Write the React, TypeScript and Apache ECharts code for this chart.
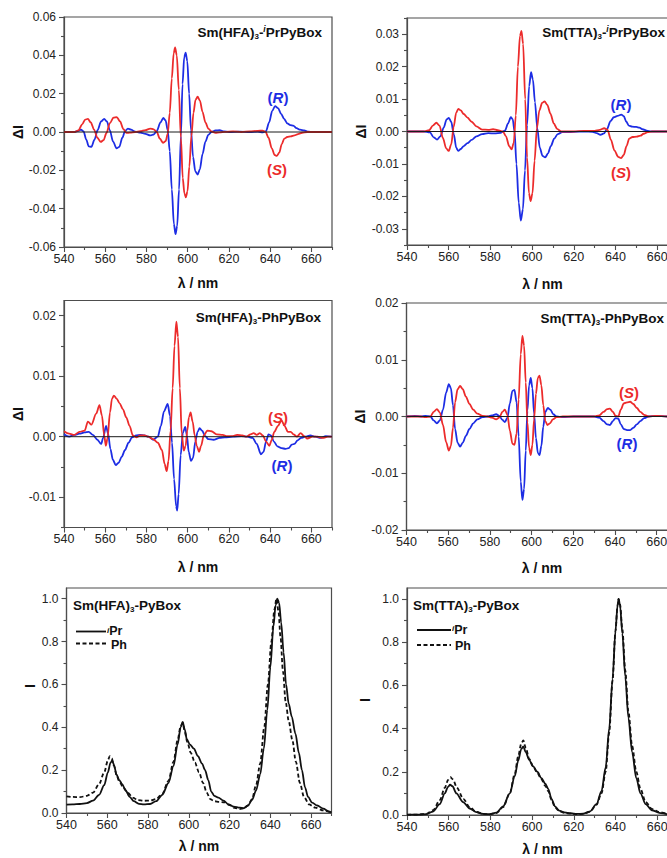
import React, { useEffect, useRef } from "react";
import * as echarts from "echarts";

type Pt = [number, number];

const FONT = '"Liberation Sans", Arial, Helvetica, sans-serif';
const RED = "#ec2b2b";
const BLUE = "#1d2de4";
const FRAME = "#4d4d4d";
const TEXT = "#222";

const WL_MIN = 540;
const WL_MAX = 670;
const wlMajor = [540, 560, 580, 600, 620, 640, 660];
const wlMinor = [550, 570, 590, 610, 630, 650, 670];

// ---- CPL spectra, Sm(HFA)3-iPrPyBox ----
const hfaPrR: Pt[] = [[540,0],[545,0],[547,0.0006],[548.3,0.0012],[549.5,0.0003],[550.8,-0.004],[552,-0.0075],[553.3,-0.0077],[554.8,-0.004],[556.3,0.001],[558,0.0055],[559.5,0.0068],[560.8,0.0055],[562.2,0.001],[563.8,-0.005],[565.5,-0.0085],[566.8,-0.0078],[568.3,-0.003],[569.6,0.0005],[571,0.0018],[572.5,0.0012],[574.5,0.0002],[577,-0.0003],[579.5,-0.001],[581.8,-0.0018],[583.5,-0.0013],[585,0.0005],[586.8,0.005],[588.2,0.0073],[589.3,0.006],[590.3,0.001],[591.3,-0.01],[592.3,-0.03],[593.3,-0.048],[594.1,-0.0533],[594.9,-0.049],[595.8,-0.03],[596.7,-0.002],[597.5,0.025],[598.3,0.039],[599,0.0414],[599.8,0.037],[600.7,0.02],[601.6,0.001],[602.6,-0.013],[603.7,-0.0205],[604.8,-0.0222],[605.9,-0.0195],[607.2,-0.0115],[608.6,-0.005],[610,-0.0015],[611.5,0],[613.5,0.0008],[615.5,0.001],[617.5,0.0003],[620,0],[625,0.0002],[630,0],[634,0.0002],[636.5,-0.0002],[638,0.0005],[639.5,0.005],[641,0.011],[642.4,0.0135],[643.8,0.0125],[645.3,0.0095],[646.8,0.0068],[648.3,0.0045],[649.8,0.0036],[651.2,0.0033],[652.8,0.002],[654.5,0.0012],[656.5,0.0008],[658.5,0.0002],[661,0],[670,0]];
const hfaPrS: Pt[] = [[540,0],[545,0],[547,0.0008],[548.8,0.004],[550.3,0.0065],[551.6,0.0068],[553,0.005],[554.6,0.0012],[556.2,-0.003],[557.8,-0.0052],[559.2,-0.0042],[560.6,-0.0005],[562.2,0.0045],[564,0.0075],[565.6,0.0078],[567.2,0.0055],[568.8,0.0015],[570.3,-0.0005],[572,-0.0003],[574.5,0],[577,0.0004],[579.5,0.001],[581.8,0.0018],[583.5,0.0014],[585,0],[586.5,-0.0035],[588,-0.0056],[589.3,-0.0048],[590.3,-0.001],[591.3,0.01],[592.3,0.028],[593.2,0.041],[593.9,0.0441],[594.7,0.04],[595.7,0.022],[596.7,-0.003],[597.6,-0.024],[598.4,-0.032],[599.1,-0.0341],[599.9,-0.031],[600.8,-0.018],[601.8,-0.002],[602.8,0.01],[603.8,0.0168],[604.8,0.0184],[605.9,0.0165],[607.2,0.0105],[608.6,0.005],[610,0.0018],[611.5,0.0003],[613.5,-0.0004],[615.5,-0.0002],[618,0.0001],[622,0.0003],[626,0],[630,0.0003],[634,0.0006],[636.3,0.0007],[637.8,0],[639.2,-0.003],[640.8,-0.0085],[642.2,-0.012],[643.2,-0.0125],[644.4,-0.0108],[645.6,-0.0065],[646.8,-0.0035],[648.3,-0.0026],[650,-0.0023],[651.8,-0.0018],[653.5,-0.0011],[655.5,-0.0004],[658,0],[670,0]];

// ---- CPL spectra, Sm(TTA)3-iPrPyBox ----
const ttaPrR: Pt[] = [[540,0],[548,0],[551,-0.0003],[552.8,-0.0018],[554.4,-0.0025],[556,-0.0015],[557.6,0.0012],[559,0.0037],[560.1,0.0042],[561.2,0.003],[562.5,-0.001],[563.6,-0.005],[564.6,-0.006],[565.8,-0.0054],[567.2,-0.0045],[569,-0.0036],[571,-0.0026],[573.3,-0.0015],[576,-0.0008],[579,-0.0005],[582,-0.0006],[585,-0.0004],[587,0.0003],[588.5,0.0025],[589.8,0.0044],[590.7,0.0038],[591.6,0],[592.5,-0.01],[593.6,-0.022],[594.6,-0.0275],[595.6,-0.024],[596.6,-0.012],[597.6,0.002],[598.6,0.014],[599.5,0.0183],[600.4,0.016],[601.4,0.009],[602.5,0.001],[603.7,-0.005],[605,-0.0075],[606.3,-0.008],[607.6,-0.0068],[609,-0.0045],[610.6,-0.0022],[612.3,-0.0008],[614.5,-0.0002],[617,-0.0002],[620,-0.0001],[625,0],[629,-0.0001],[631,-0.0005],[632.8,-0.001],[634.5,-0.0006],[636,0.0008],[637.6,0.0032],[639.2,0.0044],[641,0.0048],[642.8,0.0052],[644,0.0047],[645.2,0.003],[646.4,0.0018],[648,0.0015],[650,0.0014],[651.5,0.0012],[653,0.0007],[655,0.0003],[657,0],[670,0]];
const ttaPrS: Pt[] = [[540,0],[548,0],[550.6,0.0004],[552.4,0.0018],[554.1,0.0027],[555.6,0.0018],[557.2,-0.002],[558.8,-0.0052],[560,-0.006],[561.2,-0.004],[562.4,0.0015],[563.6,0.0058],[564.6,0.007],[565.8,0.0065],[567.2,0.0054],[569,0.0043],[571,0.003],[573.3,0.0016],[576,0.0006],[579,0.0005],[581.3,0.0007],[583.5,0.0004],[586,0],[587.5,-0.0015],[589,-0.0045],[590.2,-0.0055],[591.2,-0.0035],[592.2,0.005],[593.2,0.02],[594.2,0.0295],[594.9,0.031],[595.7,0.027],[596.7,0.01],[597.6,-0.008],[598.5,-0.019],[599.3,-0.0215],[600.2,-0.019],[601.2,-0.009],[602.3,0.001],[603.5,0.0065],[604.8,0.0088],[606,0.0093],[607.3,0.0082],[608.8,0.0055],[610.4,0.0025],[612,0.0008],[614,0],[620,0],[625,0.0002],[630,0.0002],[632.5,0.0005],[634.6,0.001],[636.2,0.0005],[637.8,-0.0025],[639.5,-0.0058],[641.3,-0.0078],[642.7,-0.0082],[644,-0.0072],[645.3,-0.0045],[646.6,-0.0022],[648.2,-0.0017],[650.2,-0.0016],[652,-0.0013],[653.5,-0.0007],[655.5,-0.0002],[657.5,0],[670,0]];

// ---- CPL spectra, Sm(HFA)3-PhPyBox ----
const hfaPhR: Pt[] = [[540,0.0004],[542.5,0],[545,0.0003],[547.5,0.0005],[550,0.0007],[552,0.0008],[554,0.0003],[556.2,-0.0005],[558,-0.0012],[559,-0.0002],[560.4,0.0018],[561.4,0.0005],[562.5,-0.002],[563.7,-0.0038],[565.1,-0.0047],[566.5,-0.0043],[568,-0.0033],[569.6,-0.0022],[571.3,-0.001],[573,-0.0001],[575,0.0002],[577,0.0003],[579,0.0002],[581,0],[583.2,-0.0005],[585.5,0],[587,0.0018],[588.5,0.0042],[590.3,0.0054],[591.4,0.0035],[592.4,-0.001],[593.4,-0.007],[594.4,-0.0115],[594.9,-0.0122],[595.6,-0.0095],[596.6,-0.003],[597.7,0.0007],[598.8,0.0016],[599.6,0.0002],[600.5,-0.0025],[601.6,-0.004],[602.6,-0.0035],[603.7,-0.0008],[604.8,0.0008],[605.8,0.0014],[607,0.001],[608.5,0.0001],[610,-0.0004],[612.5,-0.0005],[615.5,-0.0002],[618,-0.0001],[622,0],[626,0.0001],[629,0],[631.5,-0.0002],[633.5,-0.0012],[635.5,-0.0029],[636.8,-0.0025],[638,-0.0008],[639.2,0.0004],[640.4,0.0002],[641.8,-0.0008],[643.5,-0.0016],[645.5,-0.0019],[647.5,-0.002],[649,-0.0019],[650.5,-0.0013],[651.8,-0.0012],[653.3,-0.0006],[655,-0.0002],[657,0],[659.5,0.0002],[662,0],[664.5,-0.0002],[667,0.0001],[670,0]];
const hfaPhS: Pt[] = [[540,0.0009],[542.5,0.0005],[545,0.0003],[547.5,0.0008],[550,0.001],[551.6,0.0025],[553.3,0.002],[555.6,0.0038],[557.2,0.0052],[558.4,0.0035],[559.5,0.0002],[560.3,-0.0015],[561.1,-0.0003],[562.3,0.004],[563.3,0.0063],[564.2,0.0068],[565.5,0.0063],[567,0.0055],[568.6,0.0045],[570.2,0.0032],[571.8,0.0018],[573.4,0.0002],[575,-0.0001],[577,0.0002],[579,0.0002],[581,0],[583.2,-0.0004],[585.5,-0.001],[587.5,-0.0022],[588.8,-0.0045],[589.8,-0.0057],[590.7,-0.004],[591.7,0.001],[592.7,0.008],[593.6,0.015],[594.5,0.019],[595.3,0.0165],[596.2,0.008],[597.1,0.0005],[598.1,-0.0023],[599,-0.0015],[599.8,0.001],[600.6,0.0032],[601.4,0.004],[602.4,0.0025],[603.4,0.0002],[604.4,-0.0015],[605.5,-0.0025],[606.5,-0.0015],[607.8,0.0002],[609.5,0.001],[611.5,0.0009],[614,0.0004],[617,0.0003],[619,0.0001],[621.5,0.0001],[624,0.0003],[626.5,0.0002],[628.5,0],[630.5,0.0004],[632,0.0006],[633.5,0.0003],[635,0.0006],[636.5,0.0002],[638,-0.0008],[639.6,-0.0015],[640.8,-0.0005],[642,0.0008],[643.8,0.0018],[645.5,0.0027],[647,0.0018],[648.6,0.0008],[650,0.0008],[651.3,0.0004],[653,0],[654.8,0.0006],[656.5,0.0001],[658,-0.0003],[660.5,0],[663,0],[665.5,-0.0002],[668,0],[670,0]];

// ---- CPL spectra, Sm(TTA)3-PhPyBox ----
const ttaPhR: Pt[] = [[540,0],[544,0.0001],[547,0],[549,0.0001],[551.5,0],[553,-0.0007],[554.6,-0.0012],[556,-0.0007],[557.5,0.0012],[559,0.0042],[560.3,0.0057],[561.3,0.005],[562.3,0.002],[563.3,-0.0022],[564.5,-0.0046],[565.7,-0.0053],[567,-0.0046],[568.5,-0.0034],[570.2,-0.0022],[572,-0.0012],[574,-0.0005],[576.5,-0.0001],[579,0],[581,0.0002],[583,0.0004],[584.5,0.0001],[586,-0.0006],[587.2,-0.001],[588.4,-0.0002],[589.6,0.0023],[590.8,0.0045],[591.8,0.0047],[592.8,0.0025],[593.8,-0.0035],[594.8,-0.0115],[595.6,-0.0147],[596.4,-0.0128],[597.2,-0.006],[598,0.001],[598.8,0.0055],[599.6,0.0068],[600.4,0.005],[601.2,0.0005],[602.1,-0.0038],[603,-0.0064],[603.8,-0.0068],[604.7,-0.0052],[605.6,-0.0018],[606.6,0.0008],[607.8,0.0015],[609,0.0012],[610.4,0.0004],[612,0],[615,-0.0001],[620,0],[630,0],[632.5,-0.0002],[634.5,-0.0008],[636.2,-0.0014],[637.6,-0.0015],[639,-0.0008],[640.3,-0.0003],[641.6,-0.0004],[642.8,-0.0014],[644.2,-0.0022],[645.8,-0.0024],[647.3,-0.0024],[648.8,-0.002],[650.5,-0.0014],[652.2,-0.0008],[654,-0.0003],[656,0],[660,0.0001],[665,0],[670,0]];
const ttaPhS: Pt[] = [[540,0],[547,0],[549,-0.0001],[551.5,0],[553,0.0008],[554.6,0.0013],[556,0.0007],[557.5,-0.0015],[559,-0.0045],[560.3,-0.006],[561.3,-0.0052],[562.3,-0.002],[563.3,0.0025],[564.5,0.0048],[565.7,0.0054],[567,0.0048],[568.5,0.0035],[570.2,0.0022],[572,0.0012],[574,0.0005],[576.5,0.0001],[579,0],[581,-0.0002],[583,-0.0005],[584.5,-0.0002],[586,0.0008],[587.2,0.0012],[588.4,0.0003],[589.6,-0.0025],[590.8,-0.0048],[591.8,-0.005],[592.8,-0.003],[593.8,0.003],[594.8,0.011],[595.6,0.0142],[596.4,0.0125],[597.2,0.006],[598,-0.001],[598.8,-0.0055],[599.6,-0.0068],[600.4,-0.005],[601.2,-0.0005],[602.1,0.004],[603,0.0068],[603.8,0.0072],[604.7,0.0055],[605.6,0.002],[606.6,-0.0008],[607.6,-0.0015],[608.8,-0.0012],[610.2,-0.0005],[612,-0.0001],[615,0],[630,0],[632.5,0.0002],[634.5,0.0008],[636.2,0.0013],[637.6,0.0014],[639,0.0008],[640.3,0.0001],[641.6,0],[642.8,0.0012],[644.2,0.0023],[645.8,0.0025],[647.3,0.0026],[648.8,0.0022],[650.5,0.0015],[652.2,0.0008],[654,0.0003],[656,0],[660,0.0001],[665,0],[670,0]];

// ---- Normalised emission, Sm(HFA)3-PyBox ----
const hfaPyPr: Pt[] = [[540,0.039],[543,0.04],[546.5,0.042],[550,0.046],[553,0.058],[556,0.085],[558.5,0.13],[560.3,0.19],[561.6,0.235],[562.4,0.245],[563.3,0.225],[564.5,0.18],[565.8,0.155],[567.3,0.135],[569,0.105],[571,0.075],[573,0.055],[575.5,0.043],[578,0.04],[581,0.042],[584,0.055],[587,0.085],[590,0.14],[592.5,0.22],[594.5,0.32],[596,0.4],[597,0.425],[598,0.39],[599,0.345],[600.5,0.32],[602.5,0.3],[604.5,0.265],[606.5,0.23],[608,0.2],[609.5,0.155],[611,0.1],[612.5,0.08],[614.5,0.072],[617,0.058],[619.5,0.04],[622,0.03],[625,0.025],[627,0.023],[629,0.035],[631,0.06],[633,0.105],[635,0.18],[636.8,0.3],[638.5,0.48],[640,0.68],[641.5,0.87],[642.6,0.97],[643.4,1.0],[644.3,0.98],[645.3,0.89],[646.5,0.75],[647.7,0.6],[649,0.51],[650.5,0.45],[652.3,0.37],[654,0.28],[655.5,0.2],[657,0.12],[658.5,0.075],[660.5,0.048],[663,0.035],[666,0.02],[668.5,0.008],[670,0.002]];
const hfaPyPh: Pt[] = [[540,0.078],[543,0.075],[546.5,0.074],[550,0.08],[553,0.095],[556,0.135],[558.5,0.19],[560.3,0.245],[561.2,0.265],[562.2,0.255],[563.3,0.22],[564.6,0.175],[566,0.145],[567.8,0.12],[570,0.095],[572.5,0.072],[575,0.06],[578,0.057],[581,0.058],[584,0.065],[587,0.09],[590,0.15],[592.5,0.24],[594.5,0.34],[596,0.405],[597,0.42],[598,0.38],[599.3,0.33],[601,0.28],[603,0.235],[605,0.19],[607,0.14],[608.8,0.095],[610.5,0.065],[612.5,0.055],[615,0.052],[617.5,0.05],[620,0.037],[622.5,0.024],[625,0.018],[627,0.022],[629,0.035],[631,0.065],[633,0.13],[635,0.23],[637,0.4],[638.8,0.6],[640.5,0.8],[642,0.95],[643,1.0],[644,0.94],[645,0.82],[646.2,0.66],[647.5,0.52],[649,0.43],[650.8,0.34],[652.5,0.24],[654.5,0.14],[656.5,0.075],[659,0.04],[662,0.025],[666,0.012],[670,0.002]];

// ---- Normalised emission, Sm(TTA)3-PyBox ----
const ttaPyPr: Pt[] = [[540,0.002],[545,0.002],[549.3,0.004],[552.5,0.016],[555.7,0.05],[558.1,0.1],[559.7,0.13],[560.7,0.14],[561.8,0.133],[563.7,0.1],[566.9,0.06],[570.1,0.03],[573.3,0.013],[576.5,0.005],[579.7,0.004],[582.9,0.011],[586.1,0.04],[589.3,0.1],[591.7,0.18],[593.3,0.25],[594.8,0.305],[595.8,0.317],[597,0.29],[598.6,0.255],[600.5,0.225],[602.5,0.2],[604.5,0.17],[606.3,0.145],[607.8,0.12],[609.3,0.075],[611,0.04],[613,0.02],[615.5,0.012],[618.5,0.008],[621.5,0.005],[624.5,0.006],[627.7,0.016],[630.9,0.05],[633.3,0.11],[635.3,0.22],[637,0.4],[638.6,0.63],[640,0.85],[641,0.97],[641.5,1.0],[642.2,0.97],[643.3,0.84],[644.7,0.64],[646.2,0.45],[648,0.29],[650,0.17],[652,0.1],[654.5,0.05],[657.5,0.022],[661,0.01],[665,0.004],[670,0.001]];
const ttaPyPh: Pt[] = [[540,0.001],[545,0.002],[549.3,0.005],[552.5,0.022],[555.7,0.068],[558.1,0.125],[559.7,0.162],[560.8,0.175],[562,0.165],[564,0.125],[567,0.075],[570.1,0.036],[573.3,0.014],[576.5,0.005],[579.7,0.003],[582.9,0.009],[586.1,0.036],[589.3,0.1],[591.7,0.19],[593.3,0.27],[594.8,0.33],[595.8,0.345],[597,0.31],[598.6,0.26],[600.5,0.225],[602.5,0.195],[604.5,0.165],[606.3,0.135],[607.8,0.11],[609.3,0.07],[611,0.036],[613,0.018],[615.5,0.01],[618.5,0.006],[621.5,0.004],[624.5,0.005],[627.7,0.015],[630.9,0.047],[633.3,0.1],[635.3,0.2],[637,0.38],[638.6,0.62],[640,0.85],[641,0.97],[641.5,1.0],[642.2,0.975],[643.3,0.86],[644.7,0.67],[646.2,0.48],[648,0.32],[650,0.2],[652,0.12],[654.5,0.06],[657.5,0.028],[661,0.013],[665,0.006],[670,0.002]];

const zeroLine: Pt[] = [[WL_MIN, 0], [WL_MAX, 0]];

// y tick positions per panel
const cdTicks06 = [-0.06, -0.04, -0.02, 0, 0.02, 0.04, 0.06];
const cdMinor06 = [-0.05, -0.03, -0.01, 0.01, 0.03, 0.05];
const cdTicks03 = [-0.03, -0.02, -0.01, 0, 0.01, 0.02, 0.03];
const cdMinor03 = [-0.035, -0.025, -0.015, -0.005, 0.005, 0.015, 0.025, 0.035];
const cdTicks02a = [-0.01, 0, 0.01, 0.02];
const cdMinor02a = [-0.015, -0.005, 0.005, 0.015];
const cdTicks02 = [-0.02, -0.01, 0, 0.01, 0.02];
const cdMinor02 = [-0.015, -0.005, 0.005, 0.015];
const emTicks = [0, 0.2, 0.4, 0.6, 0.8, 1.0];
const emMinor = [0.1, 0.3, 0.5, 0.7, 0.9];

type Line = { data: Pt[]; color: string; dashed?: boolean };
type Panel = {
  left: number; top: number; width: number; height: number;
  yMin: number; yMax: number; yMajor: number[]; yMinor: number[]; digits: number;
  yName: string; yNameGap: number; xNameGap: number;
  lines: Line[]; zero: boolean;
};

const panels: Panel[] = [
  { left: 64, top: 17, width: 268, height: 230, yMin: -0.06, yMax: 0.06, yMajor: cdTicks06, yMinor: cdMinor06, digits: 2,
    yName: "ΔI", yNameGap: 43, xNameGap: 36, zero: true,
    lines: [{ data: hfaPrR, color: BLUE }, { data: hfaPrS, color: RED }] },
  { left: 407, top: 18, width: 271, height: 227, yMin: -0.035, yMax: 0.035, yMajor: cdTicks03, yMinor: cdMinor03, digits: 2,
    yName: "ΔI", yNameGap: 45, xNameGap: 39, zero: true,
    lines: [{ data: ttaPrR, color: BLUE }, { data: ttaPrS, color: RED }] },
  { left: 64, top: 300.5, width: 268, height: 227, yMin: -0.015, yMax: 0.0225, yMajor: cdTicks02a, yMinor: cdMinor02a, digits: 2,
    yName: "ΔI", yNameGap: 41, xNameGap: 39, zero: true,
    lines: [{ data: hfaPhR, color: BLUE }, { data: hfaPhS, color: RED }] },
  { left: 406.5, top: 303, width: 271, height: 227, yMin: -0.02, yMax: 0.02, yMajor: cdTicks02, yMinor: cdMinor02, digits: 2,
    yName: "ΔI", yNameGap: 45, xNameGap: 38, zero: true,
    lines: [{ data: ttaPhR, color: BLUE }, { data: ttaPhS, color: RED }] },
  { left: 66.5, top: 588, width: 265, height: 225, yMin: 0, yMax: 1.05, yMajor: emTicks, yMinor: emMinor, digits: 1,
    yName: "", yNameGap: 0, xNameGap: 33, zero: false,
    lines: [{ data: hfaPyPr, color: "#111" }, { data: hfaPyPh, color: "#111", dashed: true }] },
  { left: 407, top: 588, width: 271, height: 227, yMin: 0, yMax: 1.05, yMajor: emTicks, yMinor: emMinor, digits: 1,
    yName: "", yNameGap: 0, xNameGap: 34, zero: false,
    lines: [{ data: ttaPyPr, color: "#111" }, { data: ttaPyPh, color: "#111", dashed: true }] },
];

const tickLine = { color: FRAME, width: 1.1 };
const nameStyle = { fontFamily: FONT, fontWeight: "bold" as const, fontSize: 14, color: "#111", verticalAlign: "middle" as const };

function buildOption() {
  const grid: any[] = [];
  const xAxis: any[] = [];
  const yAxis: any[] = [];
  const series: any[] = [];

  panels.forEach((p, i) => {
    grid.push({ left: p.left, top: p.top, width: p.width, height: p.height, show: true,
      borderColor: FRAME, borderWidth: 1.2, backgroundColor: "rgba(0,0,0,0)", outerBoundsMode: "none" });

    xAxis.push({
      type: "value", gridIndex: i, min: WL_MIN, max: WL_MAX, position: "bottom",
      axisLine: { show: true, onZero: false, lineStyle: { color: FRAME, width: 1.2 } },
      axisTick: { show: true, inside: false, length: 5, customValues: wlMajor, lineStyle: tickLine },
      axisLabel: { show: true, customValues: wlMajor, margin: 5, fontSize: 12.5, color: TEXT, fontFamily: FONT },
      splitLine: { show: false },
      name: "λ / nm", nameLocation: "middle", nameGap: p.xNameGap, nameTextStyle: nameStyle,
    });
    xAxis.push({
      type: "value", gridIndex: i, min: WL_MIN, max: WL_MAX, position: "bottom",
      axisLine: { show: false, onZero: false },
      axisTick: { show: true, inside: false, length: 3, customValues: wlMinor, lineStyle: tickLine },
      axisLabel: { show: false }, splitLine: { show: false },
    });
    yAxis.push({
      type: "value", gridIndex: i, min: p.yMin, max: p.yMax, position: "left",
      axisLine: { show: true, onZero: false, lineStyle: { color: FRAME, width: 1.2 } },
      axisTick: { show: true, inside: false, length: 5, customValues: p.yMajor, lineStyle: tickLine },
      axisLabel: { show: true, customValues: p.yMajor, margin: 8, fontSize: 12, color: TEXT, fontFamily: FONT,
        formatter: (v: number) => (Math.abs(v) < 1e-9 ? 0 : v).toFixed(p.digits) },
      splitLine: { show: false },
      name: p.yName, nameLocation: "middle", nameGap: p.yNameGap, nameTextStyle: nameStyle,
    });
    yAxis.push({
      type: "value", gridIndex: i, min: p.yMin, max: p.yMax, position: "left",
      axisLine: { show: false, onZero: false },
      axisTick: { show: true, inside: false, length: 3, customValues: p.yMinor, lineStyle: tickLine },
      axisLabel: { show: false }, splitLine: { show: false },
    });

    p.lines.forEach((l) => {
      series.push({
        type: "line", xAxisIndex: 2 * i, yAxisIndex: 2 * i, data: l.data,
        symbol: "none", showSymbol: false, smooth: 0.3, smoothMonotone: "x", silent: true, clip: true,
        lineStyle: { color: l.color, width: 1.8, type: l.dashed ? [4, 2.5] : "solid" },
        z: 2,
      });
    });
    if (p.zero) {
      series.push({
        type: "line", xAxisIndex: 2 * i, yAxisIndex: 2 * i, data: zeroLine,
        symbol: "none", showSymbol: false, silent: true,
        lineStyle: { color: "#1a1a1a", width: 1 }, z: 3,
      });
    }
  });

  const base = { fontFamily: FONT, fontWeight: "bold", fill: "#111" };
  const titleRich = {
    b: { ...base, fontSize: 13.5, lineHeight: 16 },
    sub: { ...base, fontSize: 8, lineHeight: 8, verticalAlign: "bottom" },
    sup: { ...base, fontSize: 8.5, fontStyle: "italic", lineHeight: 8, verticalAlign: "top" },
  };
  const keyRich = {
    b: { ...base, fontSize: 12.5, lineHeight: 10 },
    sup: { ...base, fontSize: 8, fontStyle: "italic", lineHeight: 5, verticalAlign: "top" },
  };
  const title = (text: string, x: number, y: number, align: string) => ({
    type: "text", x, y, silent: true,
    style: { text, rich: titleRich, align, verticalAlign: "middle" },
  });
  const handLabel = (letter: string, color: string, x: number, y: number) => ({
    type: "text", x, y, silent: true,
    style: {
      text: `{p|(}{i|${letter}}{p|)}`, align: "center", verticalAlign: "middle",
      rich: {
        p: { fontFamily: FONT, fontWeight: "bold", fontSize: 15, fill: color },
        i: { fontFamily: FONT, fontWeight: "bold", fontStyle: "italic", fontSize: 15, fill: color },
      },
    },
  });
  const yName = (x: number, y: number) => ({
    type: "text", x, y, rotation: Math.PI / 2, silent: true,
    style: { text: "I", align: "center", verticalAlign: "middle", fontFamily: FONT, fontWeight: "bold", fontSize: 14, fill: "#111" },
  });
  const keyLine = (x1: number, x2: number, y: number, dashed: boolean) => ({
    type: "line", silent: true,
    shape: { x1, y1: y, x2, y2: y },
    style: { stroke: "#111", lineWidth: 1.8, lineDash: dashed ? [4, 2.5] : null },
  });
  const keyText = (text: string, x: number, y: number) => ({
    type: "text", x, y, silent: true,
    style: { text, rich: keyRich, align: "left", verticalAlign: "middle" },
  });

  const graphic = [
    title("{b|Sm(HFA)}{sub|3}{b|-}{sup|i}{b|PrPyBox}", 322, 32, "right"),
    title("{b|Sm(TTA)}{sub|3}{b|-}{sup|i}{b|PrPyBox}", 665, 32, "right"),
    title("{b|Sm(HFA)}{sub|3}{b|-PhPyBox}", 321, 317, "right"),
    title("{b|Sm(TTA)}{sub|3}{b|-PhPyBox}", 664, 318, "right"),
    title("{b|Sm(HFA)}{sub|3}{b|-PyBox}", 73, 605, "left"),
    title("{b|Sm(TTA)}{sub|3}{b|-PyBox}", 413, 605, "left"),
    handLabel("R", BLUE, 278, 97),
    handLabel("S", RED, 277, 169),
    handLabel("R", BLUE, 621, 104),
    handLabel("S", RED, 621, 172),
    handLabel("S", RED, 278, 417),
    handLabel("R", BLUE, 282, 465),
    handLabel("S", RED, 629, 392),
    handLabel("R", BLUE, 627, 443),
    yName(30, 686),
    yName(365, 700),
    keyLine(76, 106, 631.5, false),
    keyText("{sup|i}{b|Pr}", 107, 631),
    keyLine(76, 106, 643.5, true),
    keyText("{b|Ph}", 111, 645),
    keyLine(417, 451, 630, false),
    keyText("{sup|i}{b|Pr}", 452, 629.5),
    keyLine(417, 451, 645, true),
    keyText("{b|Ph}", 455, 646),
  ];

  return {
    animation: false,
    backgroundColor: "#ffffff",
    textStyle: { fontFamily: FONT },
    grid, xAxis, yAxis, series, graphic,
  };
}

export default function App() {
  const ref = useRef<HTMLDivElement>(null);
  useEffect(() => {
    if (!ref.current) return;
    const chart = echarts.init(ref.current, null, { renderer: "svg" });
    chart.setOption(buildOption() as any);
    return () => chart.dispose();
  }, []);
  return (
    <div style={{ position: "fixed", left: 0, top: 0, width: 667, height: 858, overflow: "hidden", background: "#fff" }}>
      <div ref={ref} style={{ width: 700, height: 858 }} />
    </div>
  );
}
